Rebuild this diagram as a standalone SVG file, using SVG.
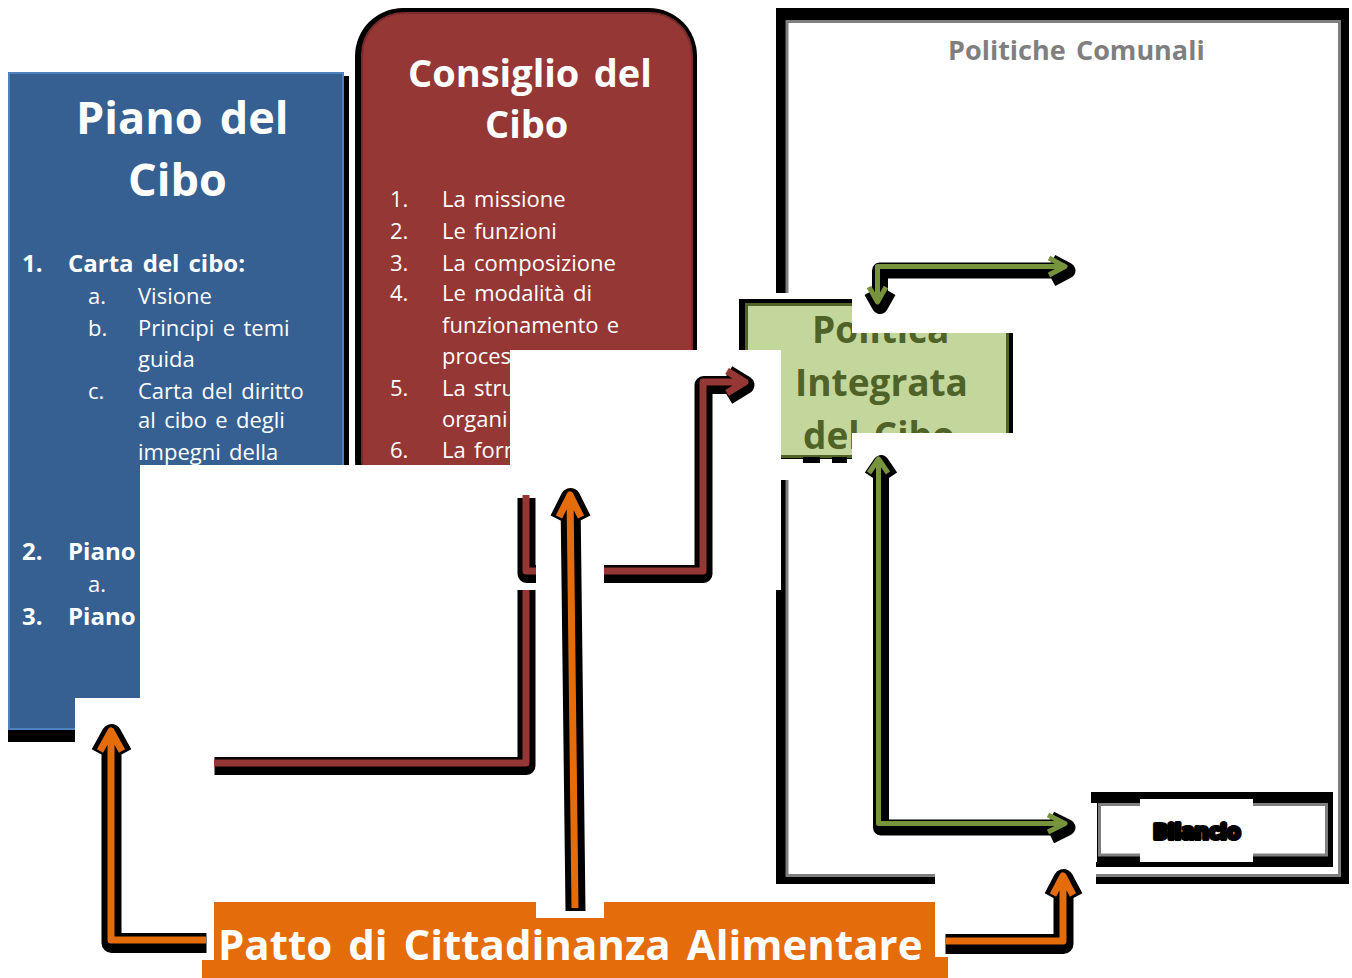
<svg xmlns="http://www.w3.org/2000/svg" width="1352" height="978" viewBox="0 0 1352 978">
<style>
text{font-family:"Open Sans","Liberation Sans",sans-serif;word-spacing:0.12em}
.b{font-weight:bold}
.wt{fill:#fff}
.h1{font-size:42px;font-weight:bold}
.h0{font-size:45px;font-weight:bold}
.h2{font-size:38px;font-weight:bold}
.li{font-size:22px}
.lb{font-size:24px;font-weight:bold}
.bd{fill:#fff}
.sr{fill:none;stroke:#000;stroke-width:18;stroke-linejoin:round}
.lr{fill:none;stroke:#953735;stroke-width:7;stroke-linejoin:round}
.so{fill:none;stroke:#000;stroke-width:20;stroke-linejoin:round}
.lo{fill:none;stroke:#E46C0A;stroke-width:7;stroke-linejoin:round}
.sg{fill:none;stroke:#000;stroke-width:16;stroke-linejoin:round}
.lg{fill:none;stroke:#77933C;stroke-width:5;stroke-linejoin:round}
</style>
<rect width="1352" height="978" fill="#fff"/>

<g id="piano-del-cibo">
<rect x="8" y="76" width="341" height="666" fill="#000"/>
<rect x="9" y="73" width="334" height="656" fill="#376092" stroke="#4F81BD" stroke-width="2"/>
<text class="h0 wt" x="76" y="134">Piano del</text>
<text class="h0 wt" x="128" y="196">Cibo</text>
<g class="wt">
<text class="lb" x="22" y="272">1.</text><text class="lb" x="68" y="272">Carta del cibo:</text>
<text class="li" x="88" y="304">a.</text><text class="li" x="138" y="304">Visione</text>
<text class="li" x="88" y="336">b.</text><text class="li" x="138" y="336">Principi e temi</text>
<text class="li" x="138" y="367">guida</text>
<text class="li" x="88" y="399">c.</text><text class="li" x="138" y="399">Carta del diritto</text>
<text class="li" x="138" y="428">al cibo e degli</text>
<text class="li" x="138" y="460">impegni della</text>
<text class="lb" x="22" y="560">2.</text><text class="lb" x="68" y="560">Piano</text>
<text class="li" x="88" y="592">a.</text>
<text class="lb" x="22" y="625">3.</text><text class="lb" x="68" y="625">Piano</text>
</g>
</g>

<g id="consiglio-del-cibo">
<rect x="355" y="8" width="342" height="500" rx="48" fill="#000"/>
<rect x="362" y="13" width="330" height="490" rx="42" fill="#953735" stroke="#772C2A" stroke-width="2"/>
<text class="h2 wt" x="408" y="87">Consiglio del</text>
<text class="h2 wt" x="485" y="138">Cibo</text>
<g class="wt">
<text class="li" x="390" y="207">1.</text><text class="li" x="442" y="207">La missione</text>
<text class="li" x="390" y="239">2.</text><text class="li" x="442" y="239">Le funzioni</text>
<text class="li" x="390" y="271">3.</text><text class="li" x="442" y="271">La composizione</text>
<text class="li" x="390" y="301">4.</text><text class="li" x="442" y="301">Le modalità di</text>
<text class="li" x="442" y="333">funzionamento e</text>
<text class="li" x="442" y="364">proces</text>
<text class="li" x="390" y="396">5.</text><text class="li" x="442" y="396">La stru</text>
<text class="li" x="442" y="427">organi</text>
<text class="li" x="390" y="458">6.</text><text class="li" x="442" y="458">La forn</text>
</g>
</g>

<g id="politiche-comunali">
<rect x="776" y="8" width="573" height="876" fill="#000"/>
<rect x="787" y="21.5" width="552.5" height="854" fill="#fff" stroke="#7F7F7F" stroke-width="3"/>
<text class="b" x="948" y="60" font-size="27" fill="#7F7F7F">Politiche Comunali</text>
</g>

<g id="bilancio">
<rect x="1091" y="792" width="242" height="75" fill="#000"/>
<rect x="1099.5" y="804.5" width="227" height="50.5" fill="#fff" stroke="#7F7F7F" stroke-width="3"/>
<rect x="1140" y="799" width="113" height="63" fill="#fff"/>
<text class="b" x="1153" y="839" font-size="22" fill="#000" stroke="#000" stroke-width="4" stroke-linejoin="round">Bilancio</text>
</g>

<g id="patto-di-cittadinanza-alimentare">
<rect x="202" y="902" width="746" height="76" fill="#E46C0A"/>
<text class="h1 wt" x="218" y="960">Patto di Cittadinanza Alimentare</text>
</g>

<g id="occluder">
<rect class="bd" x="776" y="293" width="76" height="187"/>
</g>

<g id="politica-integrata-del-cibo">
<rect x="739" y="299" width="274" height="160" fill="#000"/>
<rect x="746.5" y="304.5" width="261" height="152" fill="#C3D69B" stroke="#4F6228" stroke-width="3"/>
<rect x="803" y="457" width="17" height="6" fill="#000"/>
<rect x="832" y="457" width="15" height="6" fill="#000"/>
<g class="b" font-size="37" fill="#4F6228">
<text x="812" y="343">Politica</text>
<text x="795" y="396">Integrata</text>
<text x="803" y="449">del Cibo</text>
</g>
</g>

<g id="connectors">
<!-- Consiglio -> Piano -->
<rect class="bd" x="140" y="465" width="400" height="315"/>
<path class="sr" transform="translate(0.5,3)" d="M526,585 L526,763 L214,763"/>
<path class="lr" d="M526,585 L526,763 L214,763"/>
<!-- Consiglio -> Politica Integrata -->
<rect class="bd" x="510" y="350" width="271" height="240"/>
<path class="sr" transform="translate(0.5,3)" d="M526,495 L526,571 L703,571 L703,382 L743,382 M727,371 L745,382 L727,393"/>
<path class="lr" d="M526,495 L526,571 L703,571 L703,382 L743,382 M727,371 L745,382 L727,393"/>
<!-- Patto -> Consiglio -->
<rect class="bd" x="536" y="470" width="68" height="448"/>
<path class="so" transform="translate(0.5,3)" d="M575,908 L570,495 M559,517 L570,495 L581,517"/>
<path class="lo" d="M575,908 L570,495 M559,517 L570,495 L581,517"/>
<!-- Patto -> Piano -->
<rect class="bd" x="75" y="698" width="139" height="262"/>
<path class="so" transform="translate(0.5,3)" d="M206,940 L111,940 L111,731 M100,751 L111,731 L122,751"/>
<path class="lo" d="M206,940 L111,940 L111,731 M100,751 L111,731 L122,751"/>
<!-- Politica Integrata <-> Politiche Comunali -->
<rect class="bd" x="852" y="290" width="218" height="43"/>
<path class="sg" transform="translate(2.5,4)" d="M1064,266.5 L877.5,266.5 L877.5,301 M1049,258 L1065,266.5 L1049,275 M869,287 L877.5,302 L886,287"/>
<path class="lg" d="M1064,266.5 L877.5,266.5 L877.5,301 M1049,258 L1065,266.5 L1049,275 M869,287 L877.5,302 L886,287"/>
<!-- Politica Integrata <-> Bilancio -->
<rect class="bd" x="852" y="433" width="164" height="37"/>
<rect class="bd" x="1050" y="803" width="47" height="59"/>
<path class="sg" transform="translate(2.5,4)" d="M878.5,460 L878.5,823.5 L1064,823.5 M869,473 L878.5,459 L888,473 M1048,815 L1065,823.5 L1048,832"/>
<path class="lg" d="M878.5,460 L878.5,823.5 L1064,823.5 M869,473 L878.5,459 L888,473 M1048,815 L1065,823.5 L1048,832"/>
<!-- Patto -> Bilancio -->
<rect class="bd" x="935" y="862" width="161" height="95"/>
<path class="so" transform="translate(0.5,3)" d="M945,941 L1063,941 L1063,877 M1053,895 L1063,876 L1073,895"/>
<path class="lo" d="M945,941 L1063,941 L1063,877 M1053,895 L1063,876 L1073,895"/>
</g>
</svg>
